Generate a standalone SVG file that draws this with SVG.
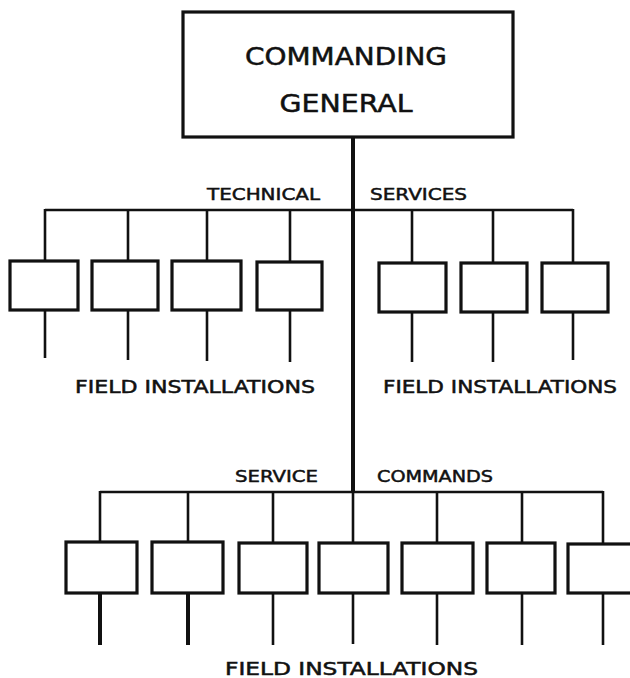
<svg xmlns="http://www.w3.org/2000/svg" width="630" height="678" viewBox="0 0 630 678">
<style>
.bx{fill:#fff;stroke:#111;stroke-width:3.2}
.ln{stroke:#111;stroke-width:2.6;fill:none}
.tr{stroke:#111;stroke-width:4;fill:none}
text{font-family:"DejaVu Sans","Liberation Sans",sans-serif;fill:#111;stroke:#111;stroke-width:0.5}
.t1{font-size:24px}
.t2{font-size:16px}
.t3{font-size:17px}
</style>
<rect width="630" height="678" fill="#fff"/>
<g id="connectors">
<line class="tr" x1="353" y1="137" x2="353" y2="493"/>
<line class="ln" x1="45" y1="210" x2="573" y2="210"/>
<line class="ln" x1="45" y1="209" x2="45" y2="261"/>
<line class="ln" x1="128" y1="210" x2="128" y2="261"/>
<line class="ln" x1="207" y1="210" x2="207" y2="261"/>
<line class="ln" x1="290" y1="210" x2="290" y2="261"/>
<line class="ln" x1="412" y1="210" x2="412" y2="263"/>
<line class="ln" x1="493" y1="210" x2="493" y2="263"/>
<line class="ln" x1="573" y1="209" x2="573" y2="263"/>
<line class="ln" x1="45" y1="310" x2="45" y2="358"/>
<line class="ln" x1="128" y1="310" x2="128" y2="360"/>
<line class="ln" x1="207" y1="310" x2="207" y2="361"/>
<line class="ln" x1="290" y1="310" x2="290" y2="362"/>
<line class="ln" x1="412" y1="312" x2="412" y2="362"/>
<line class="ln" x1="493" y1="312" x2="493" y2="362"/>
<line class="ln" x1="573" y1="312" x2="573" y2="360"/>
<line class="ln" x1="100" y1="492" x2="603" y2="492"/>
<line class="ln" x1="100" y1="491" x2="100" y2="542"/>
<line class="ln" x1="188" y1="492" x2="188" y2="542"/>
<line class="ln" x1="273" y1="492" x2="273" y2="542"/>
<line class="ln" x1="353" y1="492" x2="353" y2="542"/>
<line class="ln" x1="437" y1="492" x2="437" y2="542"/>
<line class="ln" x1="522" y1="492" x2="522" y2="542"/>
<line class="ln" x1="603" y1="491" x2="603" y2="544"/>
<line class="tr" x1="100" y1="593" x2="100" y2="645"/>
<line class="tr" x1="188" y1="593" x2="188" y2="645"/>
<line class="ln" x1="273" y1="593" x2="273" y2="645"/>
<line class="ln" x1="353" y1="593" x2="353" y2="644"/>
<line class="ln" x1="437" y1="593" x2="437" y2="645"/>
<line class="ln" x1="522" y1="593" x2="522" y2="645"/>
<line class="ln" x1="603" y1="593" x2="603" y2="645"/>
</g>
<g id="commanding-general">
<rect class="bx" x="183" y="12" width="330" height="125"/>
<text class="t1" x="346" y="65" text-anchor="middle" textLength="202" lengthAdjust="spacingAndGlyphs">COMMANDING</text>
<text class="t1" x="346" y="112" text-anchor="middle" textLength="133" lengthAdjust="spacingAndGlyphs">GENERAL</text>
</g>
<g id="labels">
<text class="t2" x="207" y="200" textLength="113" lengthAdjust="spacingAndGlyphs">TECHNICAL</text>
<text class="t2" x="370" y="200" textLength="97" lengthAdjust="spacingAndGlyphs">SERVICES</text>
<text class="t3" x="75" y="393" textLength="240" lengthAdjust="spacingAndGlyphs">FIELD  INSTALLATIONS</text>
<text class="t3" x="383" y="393" textLength="234" lengthAdjust="spacingAndGlyphs">FIELD  INSTALLATIONS</text>
<text class="t2" x="235" y="482" textLength="83" lengthAdjust="spacingAndGlyphs">SERVICE</text>
<text class="t2" x="377" y="482" textLength="116" lengthAdjust="spacingAndGlyphs">COMMANDS</text>
<text class="t3" x="225" y="675" textLength="253" lengthAdjust="spacingAndGlyphs">FIELD  INSTALLATIONS</text>
</g>
<g id="ts-1"><rect class="bx" x="10" y="261" width="68" height="49"/></g>
<g id="ts-2"><rect class="bx" x="92" y="261" width="66" height="49"/></g>
<g id="ts-3"><rect class="bx" x="172" y="261" width="69" height="49"/></g>
<g id="ts-4"><rect class="bx" x="257" y="262" width="65" height="48"/></g>
<g id="ts-5"><rect class="bx" x="379" y="263" width="67" height="49"/></g>
<g id="ts-6"><rect class="bx" x="461" y="263" width="66" height="49"/></g>
<g id="ts-7"><rect class="bx" x="542" y="263" width="66" height="49"/></g>
<g id="sc-1"><rect class="bx" x="66" y="542" width="71" height="51"/></g>
<g id="sc-2"><rect class="bx" x="152" y="542" width="71" height="51"/></g>
<g id="sc-3"><rect class="bx" x="239" y="543" width="68" height="50"/></g>
<g id="sc-4"><rect class="bx" x="319" y="543" width="69" height="50"/></g>
<g id="sc-5"><rect class="bx" x="402" y="543" width="71" height="50"/></g>
<g id="sc-6"><rect class="bx" x="487" y="543" width="68" height="50"/></g>
<g id="sc-7"><rect class="bx" x="568" y="544" width="72" height="49"/></g>
</svg>
